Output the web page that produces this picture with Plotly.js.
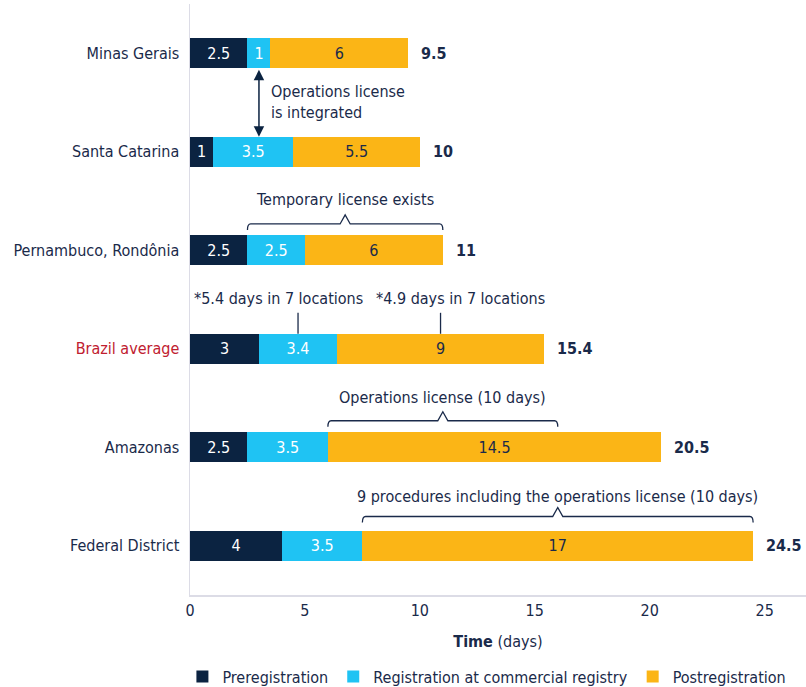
<!DOCTYPE html>
<html>
<head>
<meta charset="utf-8">
<script src="https://cdn.plot.ly/plotly-3.0.1.min.js"></script>
<style>html,body{margin:0;padding:0;background:#fff;}#chart{width:806px;height:687px;}</style>
</head>
<body>
<div id="chart"></div>
<script>
const categories = ['Minas Gerais', 'Santa Catarina', 'Pernambuco, Rondônia', 'Brazil average', 'Amazonas', 'Federal District'];
const preregistration = [2.5, 1, 2.5, 3, 2.5, 4];
const registration = [1, 3.5, 2.5, 3.4, 3.5, 3.5];
const postregistration = [6, 5.5, 6, 9, 14.5, 17];
const totals = [9.5, 10, 11, 15.4, 20.5, 24.5];
const seriesNames = ['Preregistration', 'Registration at commercial registry', 'Postregistration'];
const xTicks = [0, 5, 10, 15, 20, 25];

const FONT = '"Liberation Sans Narrow", "DejaVu Sans Condensed", "Roboto Condensed", Roboto, sans-serif';
const NAVY = '#0b2341';
const CYAN = '#1fc3f3';
const GOLD = '#fbb516';
const TXT = '#1a2a4a';
const RED = '#c0202f';

function barTrace(vals, name, color, txtColor) {
  return {
    type: 'bar', orientation: 'h', y: categories, x: vals, name: name,
    marker: {color: color, line: {width: 0}},
    width: 0.3,
    text: vals.map(v => String(v)), textposition: 'inside', insidetextanchor: 'middle',
    textangle: 0, constraintext: 'none',
    textfont: {family: FONT, size: 16, color: txtColor},
    hoverinfo: 'skip'
  };
}

const data = [
  barTrace(preregistration, seriesNames[0], NAVY, '#ffffff'),
  barTrace(registration, seriesNames[1], CYAN, '#ffffff'),
  barTrace(postregistration, seriesNames[2], GOLD, TXT)
];

const annotations = totals.map((t, i) => ({
  x: t, y: categories[i], xref: 'x', yref: 'y', text: '<b>' + t + '</b>',
  showarrow: false, xanchor: 'left', xshift: 11, font: {family: FONT, size: 16, color: TXT}
}));

function note(text, x, y, anchor) {
  return {x: x, y: y, xref: 'x', yref: 'y', text: text, showarrow: false,
    xanchor: anchor || 'center', yanchor: 'middle', align: 'left',
    font: {family: FONT, size: 16, color: TXT}};
}
annotations.push(note('Operations license<br>is integrated', 3.45, 0.497, 'left'));
annotations.push(note('Temporary license exists', 6.75, 1.483));
annotations.push(note('*5.4 days in 7 locations', 3.83, 2.493));
annotations.push(note('*4.9 days in 7 locations', 11.78, 2.493));
annotations.push(note('Operations license (10 days)', 11, 3.493));
annotations.push(note('9 procedures including the operations license (10 days)', 16, 4.503));
// double-headed arrow
annotations.push({x: 3, y: 0.848, ax: 3, ay: 0.152, xref: 'x', yref: 'y', axref: 'x', ayref: 'y',
  text: '', showarrow: true, arrowhead: 2, startarrowhead: 2, arrowside: 'end+start',
  arrowsize: 1.4, startarrowsize: 1.4, arrowwidth: 1.5, arrowcolor: NAVY, standoff: 0, startstandoff: 0});

function brace(x1, x2, yIdx) {
  const xm = (x1 + x2) / 2, c = 0.22, h = 0.14;
  const path = `M${x1},-6 Q${x1},0 ${x1 + h},0 L${xm - c},0 L${xm},9 L${xm + c},0 L${x2 - h},0 Q${x2},0 ${x2},-6`;
  return {type: 'path', xref: 'x', yref: 'y', ysizemode: 'pixel', yanchor: yIdx, path: path,
    line: {color: TXT, width: 1.3}};
}
const shapes = [
  brace(2.5, 11, 1.733),
  brace(6, 16, 3.731),
  brace(7.5, 24.5, 4.703),
  {type: 'line', xref: 'x', yref: 'y', x0: 4.7, x1: 4.7, y0: 2.635, y1: 2.848, line: {color: TXT, width: 1.3}},
  {type: 'line', xref: 'x', yref: 'y', x0: 10.9, x1: 10.9, y0: 2.635, y1: 2.848, line: {color: TXT, width: 1.3}}
];

const layout = {
  width: 806, height: 687,
  margin: {l: 190, r: 0, t: 4, b: 92, autoexpand: false},
  paper_bgcolor: '#ffffff', plot_bgcolor: '#ffffff',
  barmode: 'stack',
  showlegend: true,
  font: {family: FONT, size: 16, color: TXT},
  xaxis: {
    range: [0, 26.8], tickvals: xTicks, ticktext: xTicks.map(String),
    showgrid: false, zeroline: false, showline: true, linecolor: '#dcdce6', linewidth: 1.5,
    ticks: '', tickfont: {family: FONT, size: 16, color: TXT}, automargin: false,
    title: {text: '<b>Time</b> (days)', font: {family: FONT, size: 16, color: TXT}, standoff: 17},
    fixedrange: true
  },
  yaxis: {
    type: 'category', autorange: 'reversed', automargin: false,
    tickvals: categories,
    ticktext: categories.map(c => c === 'Brazil average' ? '<span style="color:' + RED + '">' + c + '</span>' : c),
    showgrid: false, zeroline: false, showline: true, linecolor: '#dcdce6', linewidth: 1.5,
    ticks: '', ticklabelstandoff: 6, tickfont: {family: FONT, size: 16, color: TXT},
    fixedrange: true
  },
  legend: {
    orientation: 'h', x: 0.482, xanchor: 'center', yref: 'container', y: 0.015, yanchor: 'middle',
    font: {family: FONT, size: 16, color: TXT}, traceorder: 'normal', itemclick: false, itemdoubleclick: false
  },
  annotations: annotations,
  shapes: shapes
};

Plotly.newPlot('chart', data, layout, {displayModeBar: false, staticPlot: true});
</script>
</body>
</html>
